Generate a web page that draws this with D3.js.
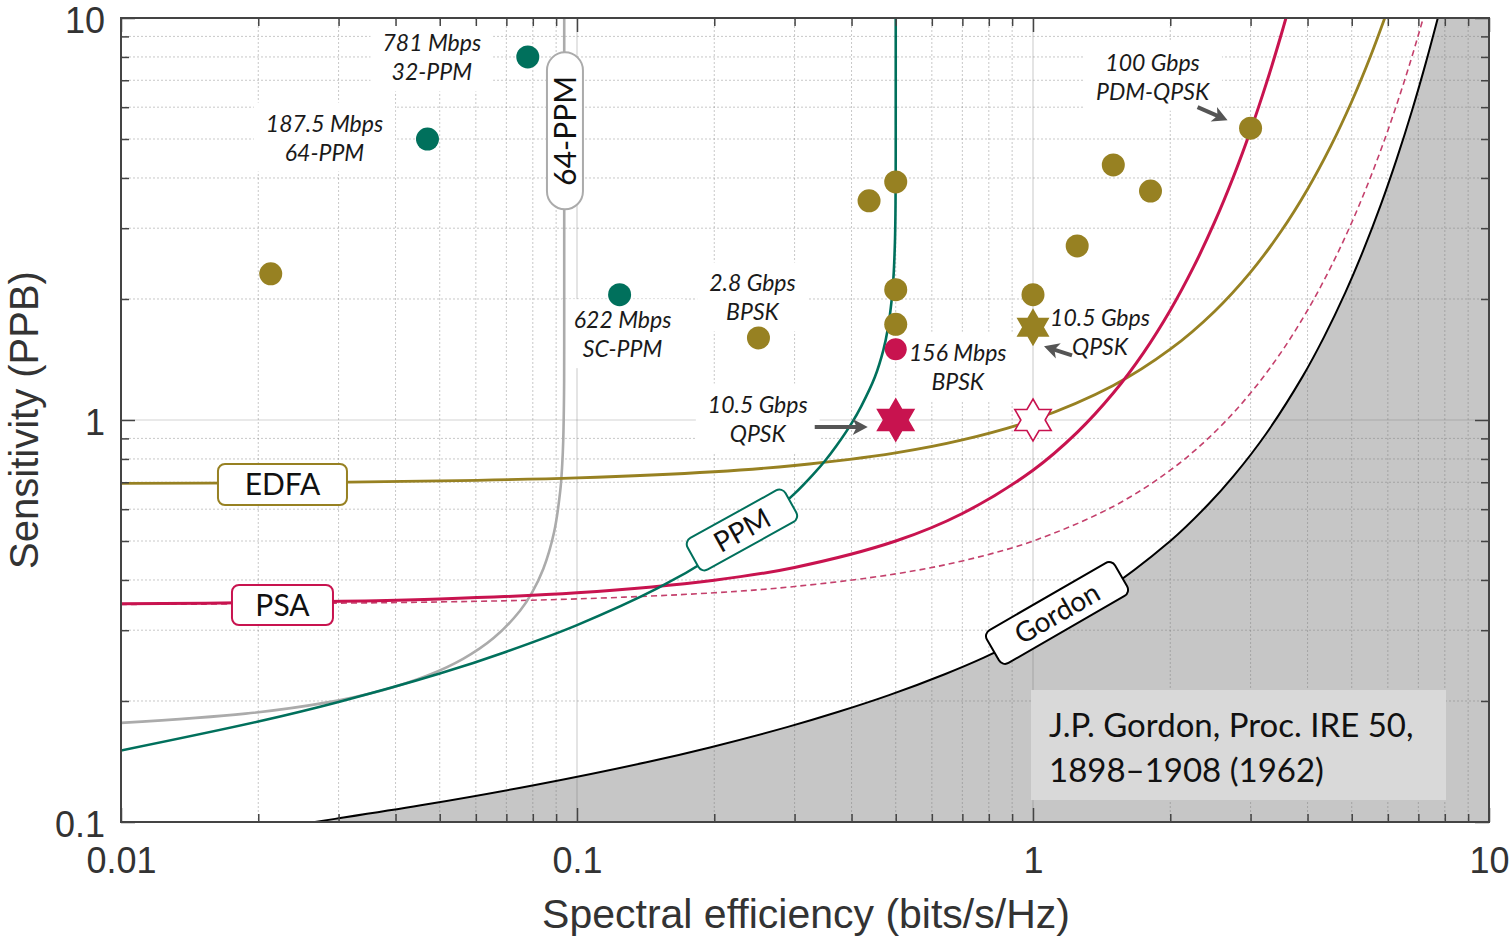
<!DOCTYPE html>
<html>
<head>
<meta charset="utf-8">
<script src="https://cdn.jsdelivr.net/npm/d3@7"></script>
<style>
  body { margin: 0; background: #fff; }
  svg { display: block; }
</style>
</head>
<body>
<svg id="chart" width="1511" height="938"></svg>
<script>
'use strict';

// ---- data: [spectral efficiency (bits/s/Hz), sensitivity (photons per bit)] ----
var gordonLimit = [[0.02082,0.0960],[0.02948,0.1018],[0.04545,0.1100],[0.08094,0.1236],[0.14202,0.1408],
    [0.19569,0.1533],[0.29001,0.1724],[0.3730,0.1877],[0.48345,0.2068],[0.64242,0.2335],[0.78003,0.2564],
    [1.01316,0.2961],[1.37744,0.3630],[2.0,0.5],[2.42738,0.6180],[2.7549,0.7260],[3.2451,0.9245],
    [3.9002,1.282],[4.34854,1.6097],[4.8345,2.068],[5.30041,2.6413],[5.8001,3.448],[6.2755,4.4618],
    [6.7826,5.897],[7.26285,7.7105],[7.7737,10.29]];

var edfaLimit = [[0.01,0.6956],[0.02,0.6980],[0.05,0.7053],[0.1,0.7177],[0.2,0.7435],[0.3,0.7705],
    [0.5,0.8284],[0.7,0.8921],[1,1],[1.5,1.2190],[2,1.5],[2.5,1.8627],[3,2.3333],[3.5,2.9468],
    [4,3.75],[4.5,4.806],[5,6.2],[5.5,8.045],[6,10.5]];

var psaLimit = [[0.01,0.3490],[0.02,0.3514],[0.05,0.3589],[0.1,0.3717],[0.2,0.3994],[0.3,0.4298],
    [0.5,0.5],[0.7,0.5854],[1,0.75],[1.25,0.9314],[1.5,1.1667],[1.75,1.4734],[2,1.875],[2.25,2.403],
    [2.5,3.1],[2.75,4.023],[3,5.25],[3.25,6.886],[3.5,9.071],[3.7,11.34]];

var psaDashed = [[0.01,0.3478],[0.02,0.3490],[0.05,0.3527],[0.1,0.3589],[0.2,0.3717],[0.3,0.3853],
    [0.5,0.4142],[0.7,0.4461],[1,0.5],[1.5,0.6095],[2,0.75],[2.5,0.9314],[3,1.1667],[3.5,1.4734],
    [4,1.875],[4.5,2.403],[5,3.1],[5.5,4.023],[6,5.25],[6.5,6.886],[7,9.071],[7.4,11.34]];

var ppmLimit = [[0.01,0.1506],[0.02,0.1778],[0.03,0.1989],[0.05,0.2340],[0.07,0.2653],[0.1,0.3089],
    [0.15,0.3810],[0.2,0.4595],[0.25,0.5490],[0.3,0.6560],[0.33,0.7336],[0.35,0.7920],[0.37,0.8604],
    [0.4,0.9810],[0.42,1.0817],[0.45,1.2792],[0.47,1.4965],[0.48,1.6765],[0.49,1.9959],[0.495,2.3258],
    [0.498,2.7718],[0.499,3.1135],[0.4995,3.4574],[0.4999,4.2593],[0.49999,5.41],[0.5,10]];

var ppm64Limit = [[0.009375,0.1756],[0.01875,0.1860],[0.028125,0.1981],[0.0375,0.2128],[0.046875,0.2310],
    [0.05625,0.2545],[0.065625,0.2867],[0.075,0.3353],[0.0796875,0.3720],[0.084375,0.4264],
    [0.0890625,0.5256],[0.091875,0.6653],[0.0928125,0.7753],[0.09328,0.8875],[0.093656,1.1524],
    [0.093741,1.5352],[0.09375,3.333],[0.09375,10]];

// experiments
var ppmDemos = [[0.078,8.0],[0.047,5.0],[0.124,2.05]];
var coherentDemos = [[0.0213,2.31],[0.25,1.6],[0.437,3.51],[0.5,3.91],[0.5,2.11],[0.5,1.73],
    [1.0,2.05],[1.25,2.71],[1.5,4.31],[1.81,3.71],[3.0,5.32]];
var coherentStar = [[1.0,1.70]];
var psaDemos = [[0.5,1.5]];
var psaStar = [[0.5,1.0]];
var psaStarOpen = [[1.0,1.0]];

var xMajor = [0.01, 0.1, 1, 10];
var xTickLabels = ["0.01", "0.1", "1", "10"];
var yMajor = [0.1, 1, 10];
var yTickLabels = ["0.1", "1", "10"];

// ---- colours ----
var TEAL = "#00705c", GOLD = "#978122", RED = "#c8134f", GREY = "#ababab";

(function() {
    var svg = d3.select("#chart");
    var left = 121, right = 1489, top = 18, bottom = 822;

    var x = d3.scaleLog().domain([0.01, 10]).range([left, right]);
    var y = d3.scaleLog().domain([0.1, 10]).range([bottom, top]);

    svg.append("defs").append("clipPath").attr("id", "plot-clip")
        .append("rect").attr("x", left).attr("y", top)
        .attr("width", right - left).attr("height", bottom - top);

    var line = d3.line()
        .x(function(d) { return x(d[0]); })
        .y(function(d) { return y(d[1]); })
        .curve(d3.curveCatmullRom.alpha(0.5));

    // shaded region beyond the Gordon limit
    var last = gordonLimit[gordonLimit.length - 1];
    svg.append("path")
        .attr("clip-path", "url(#plot-clip)")
        .attr("d", line(gordonLimit) + "L" + (right + 5) + "," + y(last[1]) +
              "L" + (right + 5) + "," + (bottom + 5) + "L" + x(gordonLimit[0][0]) + "," + (bottom + 5) + "Z")
        .attr("fill", "#c6c6c6");

    // grid
    var xMinor = x.ticks().filter(function(v) { return xMajor.indexOf(+v.toPrecision(3)) < 0; });
    var yMinor = y.ticks().filter(function(v) { return yMajor.indexOf(+v.toPrecision(3)) < 0; });
    var grid = svg.append("g");
    grid.selectAll(".gx").data(xMinor).enter().append("line")
        .attr("x1", x).attr("x2", x).attr("y1", top).attr("y2", bottom)
        .attr("stroke", "rgba(110,110,110,0.38)").attr("stroke-width", 1).attr("stroke-dasharray", "2,2");
    grid.selectAll(".gy").data(yMinor).enter().append("line")
        .attr("y1", y).attr("y2", y).attr("x1", left).attr("x2", right)
        .attr("stroke", "rgba(110,110,110,0.38)").attr("stroke-width", 1).attr("stroke-dasharray", "2,2");
    grid.selectAll(".gX").data(xMajor.slice(1, 3)).enter().append("line")
        .attr("x1", x).attr("x2", x).attr("y1", top).attr("y2", bottom)
        .attr("stroke", "rgba(110,110,110,0.3)").attr("stroke-width", 1.2);
    grid.selectAll(".gY").data([1]).enter().append("line")
        .attr("y1", y).attr("y2", y).attr("x1", left).attr("x2", right)
        .attr("stroke", "rgba(110,110,110,0.3)").attr("stroke-width", 1.2);

    // citation box
    svg.append("rect").attr("x", 1031).attr("y", 690).attr("width", 415).attr("height", 110)
        .attr("fill", "#d9d9d9");
    var cite = svg.append("text").attr("font-family", "Lato, 'Open Sans', sans-serif")
        .attr("font-size", 33).attr("fill", "#111");
    cite.append("tspan").attr("x", 1049).attr("y", 737).text("J.P. Gordon, Proc. IRE 50,");
    cite.append("tspan").attr("x", 1049).attr("y", 782).text("1898\u20131908 (1962)");

    // annotation texts (white background boxes first, so curves stay on top)
    var notes = [
        { at: ppmDemos[0], dx: -96, dy: 1, lines: ["781 Mbps", "32-PPM"] },
        { at: ppmDemos[1], dx: -103, dy: -1, lines: ["187.5 Mbps", "64-PPM"] },
        { at: ppmDemos[2], dx: 3, dy: 40, lines: ["622 Mbps", "SC-PPM"] },
        { at: coherentDemos[1], dx: -6, dy: -40, lines: ["2.8 Gbps", "BPSK"] },
        { at: psaDemos[0], dx: 62, dy: 18, lines: ["156 Mbps", "BPSK"] },
        { at: psaStar[0], dx: -138, dy: -1, lines: ["10.5 Gbps", "QPSK"] },
        { at: coherentDemos[10], dx: -98, dy: -51, lines: ["100 Gbps", "PDM-QPSK"] },
        { at: coherentStar[0], dx: 67, dy: 5, lines: ["10.5 Gbps", "QPSK"] }
    ];
    var noteBg = svg.append("g");
    var curves = svg.append("g").attr("clip-path", "url(#plot-clip)");
    var tags = svg.append("g");
    var noteText = svg.append("g");
    var arrows = svg.append("g");
    var marks = svg.append("g");

    notes.forEach(function(n) {
        var cx = x(n.at[0]) + n.dx, cy = y(n.at[1]) + n.dy;
        var t = noteText.append("text")
            .attr("font-family", "Lato, sans-serif").attr("font-style", "italic")
            .attr("font-size", 23).attr("fill", "#1a1a1a").attr("text-anchor", "middle");
        n.lines.forEach(function(s, i) {
            t.append("tspan").attr("x", cx).attr("y", cy + (i - 0.5) * 29 + 8).text(s);
        });
        var b = t.node().getBBox();
        noteBg.append("rect").attr("x", b.x - 12).attr("y", b.y - 6)
            .attr("width", b.width + 24).attr("height", b.height + 12).attr("fill", "#fff");
    });

    // theoretical curves
    curves.append("path").attr("d", line(psaDashed)).attr("fill", "none")
        .attr("stroke", "#c4406c").attr("stroke-width", 1.6).attr("stroke-dasharray", "6,4");
    curves.append("path").attr("d", line(gordonLimit)).attr("fill", "none")
        .attr("stroke", "#000").attr("stroke-width", 2);
    curves.append("path").attr("d", line(ppm64Limit)).attr("fill", "none")
        .attr("stroke", GREY).attr("stroke-width", 2.6);
    curves.append("path").attr("d", line(edfaLimit)).attr("fill", "none")
        .attr("stroke", GOLD).attr("stroke-width", 2.8);
    curves.append("path").attr("d", line(psaLimit)).attr("fill", "none")
        .attr("stroke", RED).attr("stroke-width", 3);
    curves.append("path").attr("d", line(ppmLimit)).attr("fill", "none")
        .attr("stroke", TEAL).attr("stroke-width", 2.6);

    // curve name tags
    function tag(at, w, h, angle, label, color, size, rx) {
        var g = tags.append("g")
            .attr("transform", "translate(" + x(at[0]) + "," + y(at[1]) + ") rotate(" + angle + ")");
        g.append("rect").attr("x", -w / 2).attr("y", -h / 2).attr("width", w).attr("height", h)
            .attr("rx", rx).attr("fill", "#fff").attr("stroke", color).attr("stroke-width", 2);
        g.append("text").attr("text-anchor", "middle").attr("dy", "0.36em")
            .attr("font-family", "Lato, sans-serif").attr("font-size", size).attr("fill", "#111")
            .text(label);
    }
    tag([0.0226, 0.691], 129, 41, 0, "EDFA", GOLD, 30, 7);
    tag([0.0226, 0.3466], 101, 40, 0, "PSA", RED, 30, 7);
    tag([0.0941, 5.24], 157, 36, -90, "64-PPM", GREY, 30, 18);
    tag([0.230, 0.5326], 112, 36, -29, "PPM", TEAL, 28, 7);
    tag([1.129, 0.3311], 148, 38, -30, "Gordon", "#000", 28, 7);

    // arrows
    function arrow(at, x1, y1, x2, y2) {
        var px = x(at[0]), py = y(at[1]);
        var ax = px + x1, ay = py + y1, bx = px + x2, by = py + y2;
        var len = Math.hypot(bx - ax, by - ay), ux = (bx - ax) / len, uy = (by - ay) / len;
        var vx = -uy, vy = ux;
        arrows.append("line").attr("x1", ax).attr("y1", ay)
            .attr("x2", bx - ux * 9).attr("y2", by - uy * 9)
            .attr("stroke", "#555").attr("stroke-width", 4);
        var pts = [[bx, by], [bx - ux * 15 + vx * 8, by - uy * 15 + vy * 8],
                   [bx - ux * 11, by - uy * 11], [bx - ux * 15 - vx * 8, by - uy * 15 - vy * 8]];
        arrows.append("path").attr("d", "M" + pts.join("L") + "Z").attr("fill", "#555");
    }
    arrow(psaStar[0], -81, 7, -28, 7);
    arrow(coherentDemos[10], -53, -21, -23, -8);
    arrow(coherentStar[0], 39, 28, 11, 19);

    // experimental points
    function dots(data, color, r) {
        marks.selectAll(null).data(data).enter().append("circle")
            .attr("cx", function(d) { return x(d[0]); })
            .attr("cy", function(d) { return y(d[1]); })
            .attr("r", r).attr("fill", color);
    }
    dots(ppmDemos, TEAL, 11.5);
    dots(coherentDemos, GOLD, 11.5);
    dots(psaDemos, RED, 11);

    function hexagram(r) {
        var pts = [];
        for (var i = 0; i < 12; i++) {
            var a = -Math.PI / 2 + i * Math.PI / 6;
            var rr = i % 2 === 0 ? r : r / Math.sqrt(3);
            pts.push([rr * Math.cos(a), rr * Math.sin(a)]);
        }
        return "M" + pts.join("L") + "Z";
    }
    function stars(data, r, fill, stroke) {
        marks.selectAll(null).data(data).enter().append("path")
            .attr("transform", function(d) { return "translate(" + x(d[0]) + "," + y(d[1]) + ")"; })
            .attr("d", hexagram(r)).attr("fill", fill)
            .attr("stroke", stroke).attr("stroke-width", stroke === "none" ? 0 : 1.6);
    }
    stars(coherentStar, 19, GOLD, "none");
    stars(psaStar, 22.5, RED, "none");
    stars(psaStarOpen, 21, "#fff", RED);

    // axes: inward ticks on all four sides
    var axisColor = "#444";
    function styleAxis(g) {
        g.select(".domain").remove();
        g.selectAll("line").attr("stroke", axisColor).attr("stroke-width", 1.5);
        g.selectAll("text").attr("fill", "#333").attr("font-family", "'Liberation Sans', Arial, sans-serif")
            .attr("font-size", 36);
    }
    var axes = svg.append("g");
    axes.append("g").attr("transform", "translate(0," + bottom + ")")
        .call(d3.axisBottom(x).tickValues(xMinor).tickSize(-8).tickFormat("")).call(styleAxis);
    axes.append("g").attr("transform", "translate(0," + bottom + ")")
        .call(d3.axisBottom(x).tickValues(xMajor).tickSize(-14).tickPadding(25)
            .tickFormat(function(d, i) { return xTickLabels[i]; })).call(styleAxis);
    axes.append("g").attr("transform", "translate(0," + top + ")")
        .call(d3.axisTop(x).tickValues(xMinor).tickSize(-8).tickFormat("")).call(styleAxis);
    axes.append("g").attr("transform", "translate(0," + top + ")")
        .call(d3.axisTop(x).tickValues(xMajor).tickSize(-14).tickFormat("")).call(styleAxis);
    axes.append("g").attr("transform", "translate(" + left + ",0)")
        .call(d3.axisLeft(y).tickValues(yMinor).tickSize(-8).tickFormat("")).call(styleAxis);
    axes.append("g").attr("transform", "translate(" + left + ",0)")
        .call(d3.axisLeft(y).tickValues(yMajor).tickSize(-14).tickPadding(16)
            .tickFormat(function(d, i) { return yTickLabels[i]; })).call(styleAxis);
    axes.append("g").attr("transform", "translate(" + right + ",0)")
        .call(d3.axisRight(y).tickValues(yMinor).tickSize(-8).tickFormat("")).call(styleAxis);
    axes.append("g").attr("transform", "translate(" + right + ",0)")
        .call(d3.axisRight(y).tickValues(yMajor).tickSize(-14).tickFormat("")).call(styleAxis);
    axes.selectAll("text").attr("dy", function() { return d3.select(this).attr("dy") === "0.32em" ? "0.4em" : d3.select(this).attr("dy"); });

    axes.append("rect").attr("x", left).attr("y", top)
        .attr("width", right - left).attr("height", bottom - top)
        .attr("fill", "none").attr("stroke", axisColor).attr("stroke-width", 2);

    svg.append("text").attr("x", (left + right) / 2 + 1).attr("y", 928)
        .attr("text-anchor", "middle").attr("font-family", "'Liberation Sans', Arial, sans-serif")
        .attr("font-size", 41).attr("fill", "#333").text("Spectral efficiency (bits/s/Hz)");
    svg.append("text").attr("transform", "translate(38," + 420 + ") rotate(-90)")
        .attr("text-anchor", "middle").attr("font-family", "'Liberation Sans', Arial, sans-serif")
        .attr("font-size", 40).attr("fill", "#333").text("Sensitivity (PPB)");
})();
</script>
</body>
</html>
